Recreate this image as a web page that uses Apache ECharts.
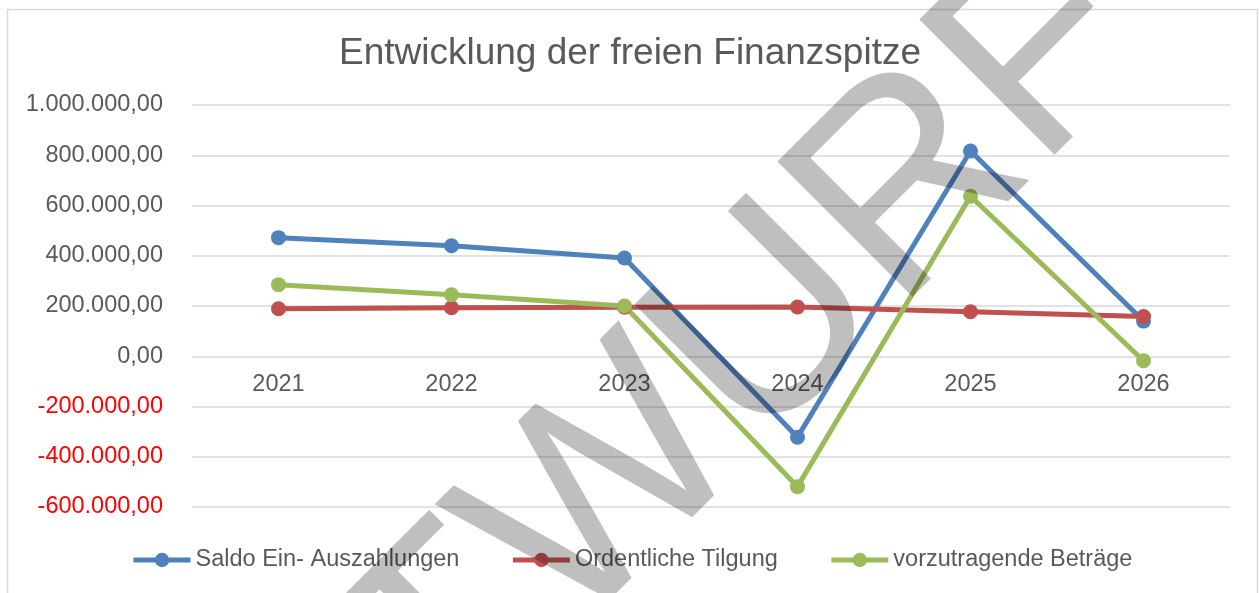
<!DOCTYPE html>
<html>
<head>
<meta charset="utf-8">
<script src="https://cdn.jsdelivr.net/npm/echarts@6/dist/echarts.min.js"></script>
<style>
html,body{margin:0;padding:0;background:#fff;}
#c{width:1260px;height:593px;}
</style>
</head>
<body>
<div id="c"></div>
<script>
var titleText = 'Entwicklung der freien Finanzspitze';
var categories = ['2021', '2022', '2023', '2024', '2025', '2026'];
var seriesNames = ['Saldo Ein- Auszahlungen', 'Ordentliche Tilgung', 'vorzutragende Beträge'];
var saldo = [472000, 440000, 391000, -322000, 817000, 140000];
var tilgung = [189000, 193000, 195000, 196000, 177000, 158000];
var vorzutragen = [285000, 245000, 200000, -519000, 637000, -18000];
var yMin = -600000, yMax = 1000000, yStep = 200000;
var watermarkText = 'ENTWURF';

function fmtDE(v) {
  var neg = v < 0;
  var s = Math.abs(Math.round(v)).toString();
  var out = '';
  while (s.length > 3) { out = '.' + s.slice(-3) + out; s = s.slice(0, -3); }
  out = s + out + ',00';
  return (neg ? '-' : '') + out;
}

var FONT = '"Liberation Sans", Arial, sans-serif';
var colors = ['#4f81bd', '#c0504d', '#9bbb59'];
var chart = echarts.init(document.getElementById('c'), null, {renderer: 'canvas'});

var gridTop = 105, gridBottom = 86, H = 593;
var zeroY = gridTop + (H - gridTop - gridBottom) * (yMax - 0) / (yMax - yMin);
var xOffset = -((H - gridBottom) - zeroY);

function mk(name, data, color) {
  return {
    name: name, type: 'line', data: data,
    symbol: 'circle', symbolSize: 15,
    lineStyle: {width: 5, color: color},
    itemStyle: {color: color},
    z: 3
  };
}

chart.setOption({
  animation: false,
  backgroundColor: '#fff',
  color: colors,
  title: {
    text: titleText, left: 'center', top: 30,
    textStyle: {fontFamily: FONT, fontSize: 37, fontWeight: 'normal', color: '#595959'}
  },
  legend: {
    left: 126, top: 543, itemWidth: 57, itemHeight: 18, itemGap: 51,
    lineStyle: {width: 5},
    textStyle: {fontFamily: FONT, fontSize: 23.5, color: '#595959'},
    data: seriesNames
  },
  grid: {left: 192, right: 30, top: gridTop, bottom: gridBottom, containLabel: false},
  xAxis: {
    type: 'category', data: categories, boundaryGap: true,
    offset: xOffset,
    axisLine: {show: false, onZero: false},
    axisTick: {show: false},
    axisLabel: {fontFamily: FONT, fontSize: 23.5, color: '#595959', margin: 16}
  },
  yAxis: {
    type: 'value', min: yMin, max: yMax, interval: yStep,
    axisLine: {show: false}, axisTick: {show: false},
    splitLine: {lineStyle: {color: '#d9d9d9', width: 1.5}},
    axisLabel: {
      fontFamily: FONT, fontSize: 23.5, margin: 29,
      formatter: function (v) { return fmtDE(v); },
      color: function (v) { return Number(v) < 0 ? '#ff0000' : '#595959'; }
    }
  },
  series: [mk(seriesNames[0], saldo, colors[0]), mk(seriesNames[1], tilgung, colors[1]), mk(seriesNames[2], vorzutragen, colors[2])],
  graphic: [
    {type: 'rect', z: -10, silent: true, shape: {x: 7.5, y: 9.5, width: 1250, height: 620},
     style: {fill: 'none', stroke: '#d9d9d9', lineWidth: 1.5}},
    {type: 'text', z: 100, silent: true, x: 613, y: 488, rotation: Math.PI / 4,
     style: {text: watermarkText, fontFamily: FONT, fontSize: 278, fill: 'rgba(0,0,0,0.25)', align: 'center', verticalAlign: 'middle'}}
  ]
});
</script>
</body>
</html>
